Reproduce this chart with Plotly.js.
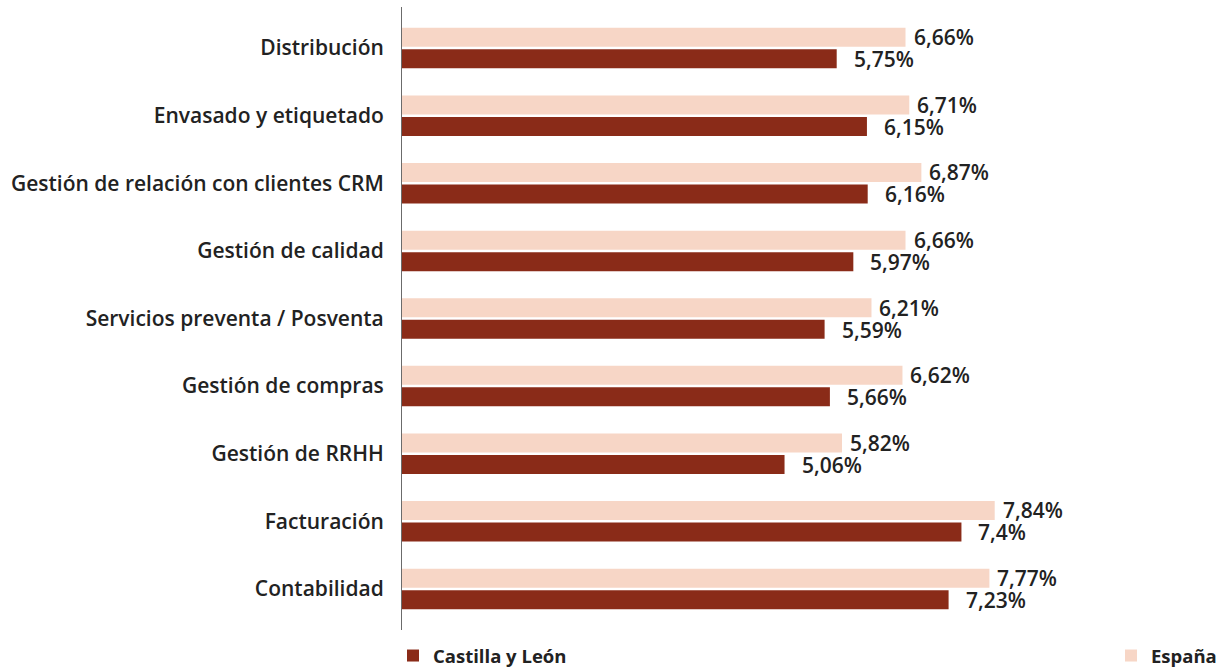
<!DOCTYPE html>
<html>
<head>
<meta charset="utf-8">
<script src="https://cdn.plot.ly/plotly-3.0.1.min.js"></script>
<style>html,body{margin:0;padding:0;background:#fff;}#chart{width:1224px;height:668px;}</style>
</head>
<body>
<div id="chart"></div>
<script>
const categories = ['Distribución','Envasado y etiquetado','Gestión de relación con clientes CRM','Gestión de calidad','Servicios preventa / Posventa','Gestión de compras','Gestión de RRHH','Facturación','Contabilidad'];
const espana = [6.66, 6.71, 6.87, 6.66, 6.21, 6.62, 5.82, 7.84, 7.77];
const castilla = [5.75, 6.15, 6.16, 5.97, 5.59, 5.66, 5.06, 7.4, 7.23];
const seriesNames = ['España', 'Castilla y León'];

const fmt = v => String(v).replace('.', ',') + '%';
const FONT = '"Open Sans", Lato, sans-serif';
const TXT = '#222222';

const traces = [
  {type:'bar', orientation:'h', name:seriesNames[0], y:categories, x:espana,
   marker:{color:'#F7D6C6'}, legend:'legend2', hoverinfo:'x+y'},
  {type:'bar', orientation:'h', name:seriesNames[1], y:categories, x:castilla,
   marker:{color:'#8A2B18'}, legend:'legend', hoverinfo:'x+y'}
];

const annotations = [];
categories.forEach((c, i) => {
  annotations.push({x:espana[i], y:c, xref:'x', yref:'y', text:fmt(espana[i]), showarrow:false,
    xanchor:'left', yanchor:'middle', xshift:7, yshift:11, borderpad:0,
    font:{family:FONT, size:21, color:TXT, weight:600}});
  annotations.push({x:castilla[i], y:c, xref:'x', yref:'y', text:fmt(castilla[i]), showarrow:false,
    xanchor:'left', yanchor:'middle', xshift:16, yshift:-11, borderpad:0,
    font:{family:FONT, size:21, color:TXT, weight:600}});
});

const layout = {
  width:1224, height:668,
  margin:{l:402, r:0, t:7, b:38, pad:0, autoexpand:false},
  paper_bgcolor:'#fff', plot_bgcolor:'#fff',
  barmode:'group', bargap:0.364, bargroupgap:0.116,
  font:{family:FONT, color:TXT},
  xaxis:{range:[0, 822/75.6], showgrid:false, zeroline:false, showline:false, showticklabels:false, ticks:''},
  yaxis:{type:'category', categoryorder:'array', categoryarray:categories,
    range:[8.607, -0.607], showgrid:false, zeroline:false, showline:true, linecolor:'#6b6b6b', linewidth:1,
    ticks:'', ticklabelstandoff:13, tickfont:{family:FONT, size:21, color:TXT, weight:600}},
  legend:{xref:'container', yref:'container', x:393/1224, y:31/668, xanchor:'left', yanchor:'top',
    orientation:'h', font:{family:FONT, size:18.5, color:TXT, weight:'bold'}, bgcolor:'rgba(0,0,0,0)'},
  legend2:{xref:'container', yref:'container', x:1111/1224, y:31/668, xanchor:'left', yanchor:'top',
    orientation:'h', font:{family:FONT, size:18.5, color:TXT, weight:'bold'}, bgcolor:'rgba(0,0,0,0)'},
  annotations:annotations,
  showlegend:true
};

Plotly.newPlot('chart', traces, layout, {displayModeBar:false, staticPlot:true});
</script>
</body>
</html>
